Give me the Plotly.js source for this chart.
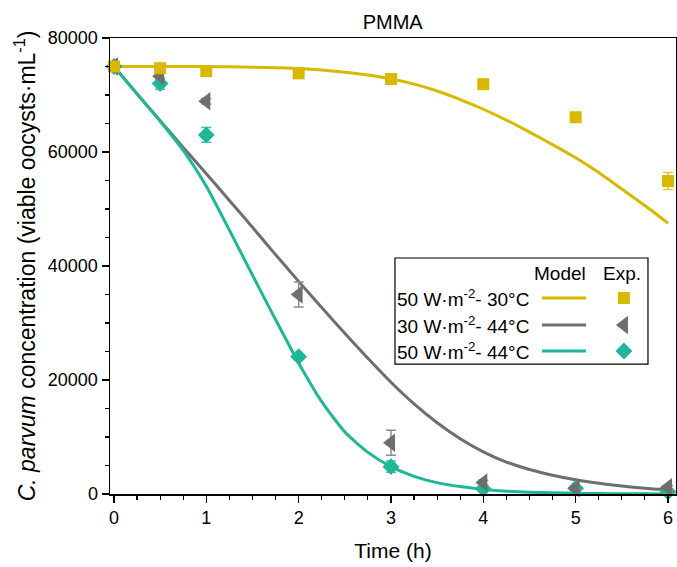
<!DOCTYPE html>
<html>
<head>
<meta charset="utf-8">
<script src="https://cdn.plot.ly/plotly-3.0.1.min.js"></script>
<style>html,body{margin:0;padding:0;background:#fff;}#chart{width:677px;height:567px;}</style>
</head>
<body>
<div id="chart"></div>
<script>
// ---- Data ----
var seriesNames = ["50 W·m<sup>-2</sup>- 30°C", "30 W·m<sup>-2</sup>- 44°C", "50 W·m<sup>-2</sup>- 44°C"];
var seriesColors = ["#D9B800", "#6E6E6E", "#1FB797"];
var errorColors = ["#E0C640", "#8C8C8C", "#3CC2A4"];
var seriesSymbols = ["square", "triangle-left", "diamond"];

// Experimental data
var expTime = [0, 0.5, 1, 2, 3, 4, 5, 6];
var exp30C50W = [75000, 74700, 74200, 73800, 72800, 71900, 66100, 54900];
var exp30C50WErr = [500, 400, 400, 400, 500, 400, 400, 1500];
var exp44C30W = [75000, 73300, 68900, 35000, 9000, 2000, 1000, 1200];
var exp44C30WErr = [500, 600, 500, 2200, 2200, 400, 300, 300];
var exp44C50W = [75000, 72000, 63000, 24100, 4800, 900, 1000, 400];
var exp44C50WErr = [600, 1000, 1300, 500, 1000, 300, 300, 200];

// Model curves
var modelTime = [0, 0.25, 0.5, 0.75, 1, 1.25, 1.5, 1.75, 2, 2.25, 2.5, 2.75, 3, 3.25, 3.5, 3.75, 4, 4.25, 4.5, 4.75, 5, 5.25, 5.5, 5.75, 6];
var model30C50W = [75000, 75000, 75000, 75000, 74990, 74950, 74880, 74780, 74650, 74400, 74000, 73500, 72800, 71900, 70700, 69200, 67500, 65600, 63500, 61300, 59000, 56400, 53500, 50600, 47500];
var model44C30W = [75000, 70200, 65500, 60800, 56200, 51500, 46800, 42000, 37300, 32700, 28200, 23800, 19600, 15800, 12500, 9700, 7400, 5600, 4300, 3300, 2500, 1900, 1400, 1000, 700];
var model44C50W = [75000, 70200, 65400, 60300, 54000, 46300, 38400, 30600, 23000, 16200, 10900, 7300, 4800, 3100, 2000, 1300, 800, 500, 300, 200, 120, 80, 50, 30, 20];

// Axis ticks
var xTicks = [0, 1, 2, 3, 4, 5, 6];
var yTicks = [0, 20000, 40000, 60000, 80000];

var expSeries = [exp30C50W, exp44C30W, exp44C50W];
var expErrs = [exp30C50WErr, exp44C30WErr, exp44C50WErr];
var modelSeries = [model30C50W, model44C30W, model44C50W];

var markerSizes = [12, 16, 13];

var traces = [];
for (var i = 0; i < 3; i++) {
  traces.push({
    x: modelTime, y: modelSeries[i], type: 'scatter', mode: 'lines',
    line: {color: seriesColors[i], width: 3, shape: 'spline', smoothing: 0.6},
    showlegend: false, hoverinfo: 'skip'
  });
}
var drawOrder = [2, 1, 0];
for (var d = 0; d < 3; d++) {
  var j = drawOrder[d];
  traces.push({
    x: expTime, y: expSeries[j], type: 'scatter', mode: 'markers',
    marker: {color: seriesColors[j], symbol: seriesSymbols[j], size: markerSizes[j], line: {width: 0}},
    error_y: {type: 'data', array: expErrs[j], visible: true, color: errorColors[j], thickness: 1.5, width: 5},
    showlegend: false, cliponaxis: false
  });
}

// Legend samples (overlay axes spanning the plot area)
var legRowY = [0.4298, 0.3706, 0.3136];
var legMarkerX = 0.908;
for (var k = 0; k < 3; k++) {
  traces.push({
    x: [legMarkerX], y: [legRowY[k]], xaxis: 'x2', yaxis: 'y2', type: 'scatter', mode: 'markers',
    marker: {color: seriesColors[k], symbol: seriesSymbols[k], size: markerSizes[k], line: {width: 0}},
    showlegend: false, hoverinfo: 'skip'
  });
}

var font = "Liberation Sans, Arial, sans-serif";

var shapes = [
  {type: 'rect', xref: 'paper', yref: 'paper', x0: 0.5035, x1: 0.9505, y0: 0.285, y1: 0.5175,
   line: {color: '#000', width: 1.2}, fillcolor: 'rgba(255,255,255,1)', layer: 'below'}
];
var annotations = [
  {text: 'Model', xref: 'paper', yref: 'paper', x: 0.795, y: 0.4846, showarrow: false, xanchor: 'center', yanchor: 'middle', font: {family: font, size: 19, color: '#000'}},
  {text: 'Exp.', xref: 'paper', yref: 'paper', x: 0.9046, y: 0.4846, showarrow: false, xanchor: 'center', yanchor: 'middle', font: {family: font, size: 19, color: '#000'}}
];
for (var m = 0; m < 3; m++) {
  shapes.push({type: 'line', xref: 'paper', yref: 'paper', x0: 0.7633, x1: 0.841, y0: legRowY[m], y1: legRowY[m],
    line: {color: seriesColors[m], width: 3}});
  annotations.push({text: seriesNames[m], xref: 'paper', yref: 'paper', x: 0.5035, y: legRowY[m], showarrow: false,
    xanchor: 'left', yanchor: 'middle', font: {family: font, size: 19, color: '#000'}});
}

var layout = {
  width: 677, height: 567,
  margin: {l: 110, r: 1, t: 38, b: 73, pad: 0},
  paper_bgcolor: '#fff', plot_bgcolor: '#fff',
  font: {family: font, size: 18, color: '#000'},
  title: {text: 'PMMA', font: {family: font, size: 20, color: '#000'}, x: 0.58, xanchor: 'center', y: 0.962, yanchor: 'middle'},
  xaxis: {
    range: [-0.043, 6.087], tickvals: xTicks, ticktext: xTicks.map(String),
    ticks: 'outside', ticklen: 7, tickwidth: 1.5, tickcolor: '#000',
    minor: {dtick: 0.25, ticks: 'outside', ticklen: 4, tickwidth: 1.2, tickcolor: '#000'},
    showline: true, linecolor: '#000', linewidth: 1.5, mirror: true,
    showgrid: false, zeroline: false,
    tickfont: {family: font, size: 18, color: '#000'},
    title: {text: 'Time (h)', font: {family: font, size: 21, color: '#000'}, standoff: 16}
  },
  yaxis: {
    range: [0, 80000], tickvals: yTicks, ticktext: yTicks.map(String),
    ticks: 'outside', ticklen: 7, tickwidth: 1.5, tickcolor: '#000',
    minor: {dtick: 5000, ticks: 'outside', ticklen: 4, tickwidth: 1.2, tickcolor: '#000'},
    showline: true, linecolor: '#000', linewidth: 1.5, mirror: true,
    showgrid: false, zeroline: false,
    tickfont: {family: font, size: 18, color: '#000'},
    title: {text: '<i>C. parvum</i> concentration (viable oocysts·mL<sup>-1</sup>)', font: {family: font, size: 23, color: '#000'}, standoff: 6}
  },
  xaxis2: {overlaying: 'x', range: [0, 1], visible: false, fixedrange: true},
  yaxis2: {overlaying: 'y', range: [0, 1], visible: false, fixedrange: true},
  shapes: shapes,
  annotations: annotations,
  showlegend: false
};

Plotly.newPlot('chart', traces, layout, {displayModeBar: false, staticPlot: true});
</script>
</body>
</html>
